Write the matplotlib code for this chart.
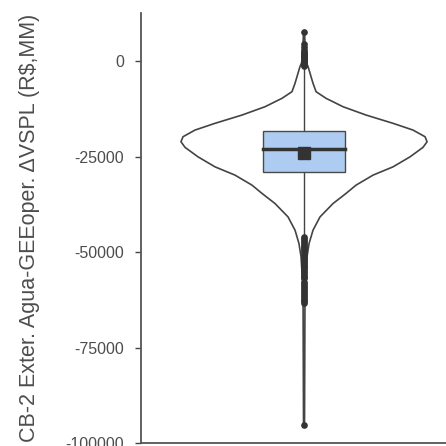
import numpy as np
import matplotlib
matplotlib.use("Agg")
import matplotlib.pyplot as plt

plt.rcParams['font.family'] = ['Liberation Sans', 'DejaVu Sans']

# violin outline: value -> relative half width (max = 1)
violin_vals = [7700, 2000, -400, -1365, -5720, -7930, -9660, -11865, -14045, -16220,
               -17980, -19740, -21050, -22520, -24990, -27615, -29790, -32415,
               -34600, -37230, -40740, -44230, -47720, -51240, -60000, -95300]
violin_dens = [0.004, 0.012, 0.02, 0.033, 0.073, 0.098, 0.179, 0.317, 0.504, 0.724,
               0.886, 0.984, 1.0, 0.967, 0.862, 0.724, 0.561, 0.423,
               0.341, 0.236, 0.130, 0.073, 0.041, 0.024, 0.008, 0.004]

# box summary
q1, median, q3 = -28900, -23000, -18200
mean_val = -23900
whisker_low, whisker_high = -45700, -1600

# outliers
outliers_high = [7600, 4700, 3700, 2900, 2400, 2100, 1800, 1600, 1300, 1000,
                 800, 500, 300, 0, -300, -500, -800, -1000, -1300]
outliers_low = [-46000, -46500, -47000, -47500, -48000, -48500, -49000, -49500,
                -50000, -50500, -51000, -51500, -52000, -52500, -53000, -53500,
                -54000, -54500, -55000, -55500, -56000, -56500, -56800,
                -57900, -58400, -58900, -59400, -59900, -60400, -60900, -61400,
                -61900, -62400, -62900, -63400, -95300]

yticks = [0, -25000, -50000, -75000, -100000]
ytick_labels = ["0", "-25000", "-50000", "-75000", "-100000"]
ylabel = "CB-2 Exter. Agua-GEEoper. \u0394VSPL (R$,MM)"

fig = plt.figure(figsize=(4.46, 4.46), dpi=100)
ax = fig.add_axes([141 / 446, 3 / 446, 305 / 446, 430 / 446])

dark = "#333333"
vals = np.array(violin_vals)
dens = np.array(violin_dens)
ax.fill_betweenx(vals, -dens, dens, facecolor="white", edgecolor="none", zorder=1)
ax.plot(-dens, vals, color="#444444", lw=1.2, zorder=2)
ax.plot(dens, vals, color="#444444", lw=1.2, zorder=2)

# whiskers
ax.plot([0, 0], [whisker_low, q1], color="#444444", lw=1.0, zorder=3)
ax.plot([0, 0], [q3, whisker_high], color="#444444", lw=1.0, zorder=3)

# box
bw = 0.336
ax.add_patch(plt.Rectangle((-bw, q1), 2 * bw, q3 - q1, facecolor="#aecbf1",
                           edgecolor="#4a4a4a", lw=1.0, zorder=4))
ax.plot([-bw, bw], [median, median], color=dark, lw=2.5, zorder=5)
ax.plot([0], [mean_val], marker="s", ms=8, color=dark, zorder=6)

# outliers
out = outliers_high + outliers_low
ax.plot(np.zeros(len(out)), out, "o", ms=3.8, color=dark, zorder=6)

ax.set_xlim(-1.325, 1.154)
ax.set_ylim(-100000, 12700)
ax.set_yticks(yticks)
ax.set_yticklabels(ytick_labels)
ax.set_xticks([])
ax.tick_params(axis="y", length=4, width=1, color="#444444", pad=8,
               labelsize=11.5, labelcolor="#4d4d4d")
for s in ["top", "right"]:
    ax.spines[s].set_visible(False)
for s in ["left", "bottom"]:
    ax.spines[s].set_color("#555555")
    ax.spines[s].set_linewidth(1.3)

ax.set_ylabel(ylabel, fontsize=15.5, color="#4d4d4d")
ax.yaxis.set_label_coords(-0.33, 0.5)

fig.savefig("out.png", dpi=100)
